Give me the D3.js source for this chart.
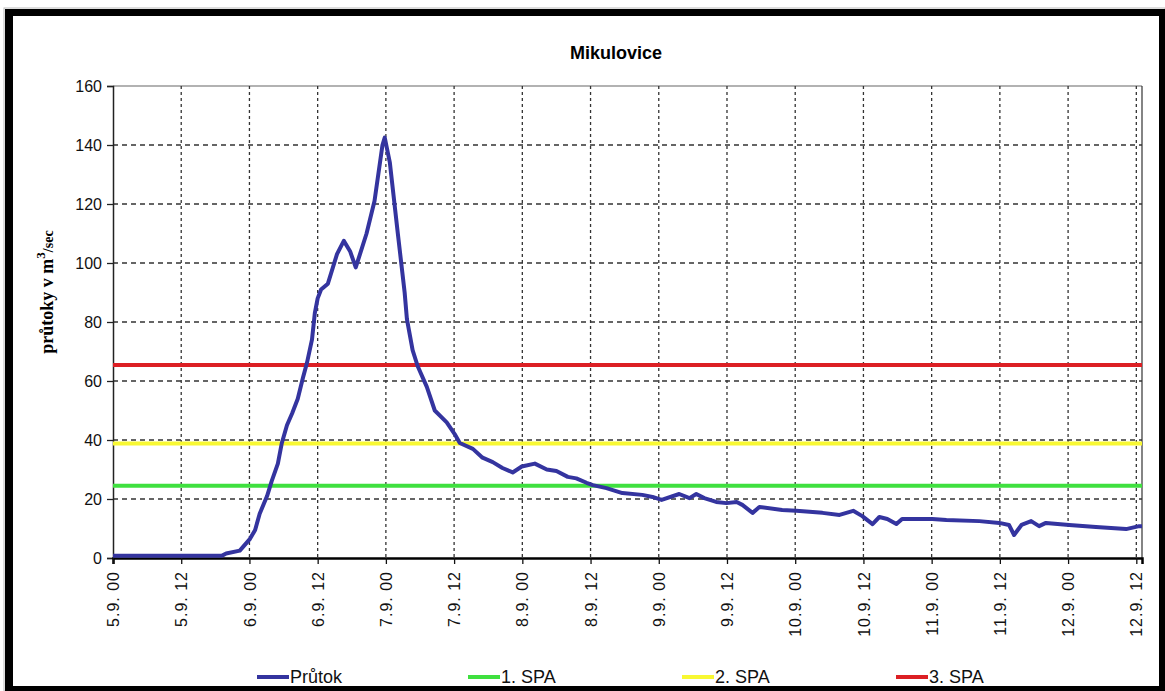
<!DOCTYPE html>
<html>
<head>
<meta charset="utf-8">
<script src="https://cdn.jsdelivr.net/npm/d3@7"></script>
<style>
  html, body { margin: 0; padding: 0; background: #fff; }
  svg { display: block; }
</style>
</head>
<body>
<svg id="chart" width="1165" height="691"></svg>
<script>
// ---- data ----
const title = "Mikulovice";
// hours since 5.9. 00:00
const hours = [0, 19.2, 19.9, 22.3, 24.1, 25.0, 25.8, 27.1, 27.9, 29.0, 29.7, 30.6, 31.5, 32.5, 33.4, 34.1, 35.0, 35.5, 36.0, 36.6, 37.8, 39.4, 40.6, 41.7, 42.7, 44.6, 46.0, 47.4, 47.8, 48.7, 50.1, 51.3, 51.7, 52.7, 53.6, 55.2, 56.6, 58.7, 60.1, 61.0, 63.3, 65.0, 66.8, 68.5, 70.3, 71.9, 74.2, 76.3, 78.0, 80.0, 81.5, 83.3, 84.4, 86.8, 89.6, 93.1, 94.9, 96.5, 99.6, 101.4, 102.6, 104.0, 106.1, 107.9, 109.7, 110.7, 112.5, 113.7, 117.7, 120.2, 124.8, 127.8, 130.2, 131.8, 133.6, 134.8, 136.2, 137.8, 138.8, 144.1, 146.6, 152.4, 155.9, 157.6, 158.5, 159.8, 161.5, 162.9, 164.1, 168.2, 172.9, 178.2, 180.5, 181];
const prutok = [0.8, 0.8, 1.5, 2.5, 6.5, 9.5, 15, 21, 26, 32, 39, 45, 49, 54, 61, 66, 74, 83, 88, 91, 93, 103, 107.5, 104, 98.5, 110, 121, 140, 142.5, 134, 110, 90, 81, 70.5, 65, 58, 50, 46, 42, 39, 37, 34, 32.5, 30.5, 29, 31, 32, 30, 29.5, 27.5, 27, 25.5, 24.7, 23.7, 22, 21.4, 20.7, 19.7, 21.7, 20.3, 21.7, 20.3, 19, 18.6, 19, 18, 15.3, 17.3, 16.3, 16, 15.3, 14.6, 16, 14.2, 11.5, 13.9, 13.2, 11.5, 13.2, 13.2, 12.9, 12.5, 11.9, 11.2, 7.8, 11.2, 12.5, 10.8, 11.9, 11.2, 10.5, 9.8, 10.8, 10.8];
const spaNames = ["1. SPA", "2. SPA", "3. SPA"];
const spaValues = [24.5, 38.8, 65.4];
const xTickHours = [0, 12, 24, 36, 48, 60, 72, 84, 96, 108, 120, 132, 144, 156, 168, 180];
const xTickLabels = ["5.9. 00", "5.9. 12", "6.9. 00", "6.9. 12", "7.9. 00", "7.9. 12", "8.9. 00", "8.9. 12", "9.9. 00", "9.9. 12", "10.9. 00", "10.9. 12", "11.9. 00", "11.9. 12", "12.9. 00", "12.9. 12"];
const yTicks = [0, 20, 40, 60, 80, 100, 120, 140, 160];
const legendNames = ["Průtok", "1. SPA", "2. SPA", "3. SPA"];

// ---- styles ----
const colBlue = "#34349f";
const spaColors = ["#3fe03f", "#f8f832", "#dc1f24"];
const legendColors = [colBlue].concat(spaColors);

const svg = d3.select("#chart");
const L = 113, R = 1142, T = 86, B = 558;
const x = d3.scaleLinear().domain([0, 181]).range([L, R]);
const y = d3.scaleLinear().domain([0, 160]).range([B, T]);

// outer frame
svg.append("rect").attr("x", 4).attr("y", 8).attr("width", 1161).attr("height", 683).attr("fill", "none").attr("stroke", "#bbb").attr("stroke-width", 1);
svg.append("rect").attr("x", 5).attr("y", 9).attr("width", 1160).attr("height", 7).attr("fill", "#000");
svg.append("rect").attr("x", 5).attr("y", 9).attr("width", 8).attr("height", 682).attr("fill", "#000");
svg.append("rect").attr("x", 1159).attr("y", 9).attr("width", 6).attr("height", 682).attr("fill", "#000");
svg.append("rect").attr("x", 5).attr("y", 686).attr("width", 1160).attr("height", 5).attr("fill", "#000");

// title
svg.append("text").attr("x", 616).attr("y", 59).attr("text-anchor", "middle")
  .style("font-family", "Arial, 'Liberation Sans', sans-serif").style("font-weight", "bold").style("font-size", "18px")
  .text(title);

// plot border top/right
svg.append("line").attr("x1", L).attr("x2", R).attr("y1", T).attr("y2", T).attr("stroke", "#666").attr("stroke-width", 1.2);
svg.append("line").attr("x1", R).attr("x2", R).attr("y1", T).attr("y2", B).attr("stroke", "#333").attr("stroke-width", 1.2);

// grid
const g = svg.append("g");
g.selectAll(".hg").data(yTicks.filter(d => d > 0 && d < 160)).join("line")
  .attr("x1", L).attr("x2", R).attr("y1", d => y(d)).attr("y2", d => y(d))
  .attr("stroke", "#333").attr("stroke-width", 1.3).attr("stroke-dasharray", "5,4");
g.selectAll(".vg").data(xTickHours.filter(d => d > 0)).join("line")
  .attr("x1", d => x(d)).attr("x2", d => x(d)).attr("y1", T).attr("y2", B)
  .attr("stroke", "#333").attr("stroke-width", 1.3).attr("stroke-dasharray", "3,3");

// axes
const yAxis = d3.axisLeft(y).tickValues(yTicks).tickSize(6).tickPadding(5).tickFormat(d3.format("d"));
const ya = svg.append("g").attr("transform", `translate(${L},0)`).call(yAxis);
ya.select(".domain").attr("stroke", "#222").attr("stroke-width", 1.5);
ya.selectAll(".tick line").attr("stroke", "#222").attr("stroke-width", 1.3);
ya.selectAll("text").style("font-family", "Arial, 'Liberation Sans', sans-serif").style("font-size", "16px").attr("fill", "#111");

const xAxis = d3.axisBottom(x).tickValues(xTickHours).tickSize(6).tickFormat((d, i) => xTickLabels[i]);
const xa = svg.append("g").attr("transform", `translate(0,${B})`).call(xAxis);
xa.select(".domain").attr("stroke", "#000").attr("stroke-width", 2.5);
xa.selectAll(".tick line").attr("stroke", "#111").attr("stroke-width", 1.3);
xa.selectAll("text")
  .style("font-family", "Arial, 'Liberation Sans', sans-serif").style("font-size", "16px").style("letter-spacing", "1px").attr("fill", "#111")
  .attr("transform", "rotate(-90)")
  .attr("text-anchor", "end").attr("x", -13).attr("y", 0).attr("dy", "0.35em");

// y axis title
const yt = svg.append("text").attr("transform", "translate(53,292) rotate(-90)").attr("text-anchor", "middle")
  .style("font-family", "'Liberation Serif', 'Times New Roman', serif").style("font-weight", "bold").style("font-size", "18px");
yt.append("tspan").text("průtoky v m");
yt.append("tspan").attr("dy", -8).style("font-size", "13px").text("3");
yt.append("tspan").attr("dy", 8).style("font-size", "14px").text("/sec");

// SPA lines
svg.selectAll(".spa").data(spaValues).join("line")
  .attr("x1", L).attr("x2", R).attr("y1", d => y(d)).attr("y2", d => y(d))
  .attr("stroke", (d, i) => spaColors[i]).attr("stroke-width", 4);

// flow line
const data = hours.map((h, i) => [h, prutok[i]]);
svg.append("path").datum(data)
  .attr("d", d3.line().x(d => x(d[0])).y(d => y(d[1])))
  .attr("fill", "none").attr("stroke", colBlue).attr("stroke-width", 4).attr("stroke-linejoin", "round");

// legend
const legX = [257, 468, 682, 896];
const lg = svg.append("g");
legendNames.forEach((n, i) => {
  lg.append("line").attr("x1", legX[i]).attr("x2", legX[i] + 32).attr("y1", 677).attr("y2", 677)
    .attr("stroke", legendColors[i]).attr("stroke-width", 4);
  lg.append("text").attr("x", legX[i] + 33).attr("y", 683)
    .style("font-family", "Arial, 'Liberation Sans', sans-serif").style("font-size", "18px").attr("fill", "#111")
    .text(n);
});
</script>
</body>
</html>
